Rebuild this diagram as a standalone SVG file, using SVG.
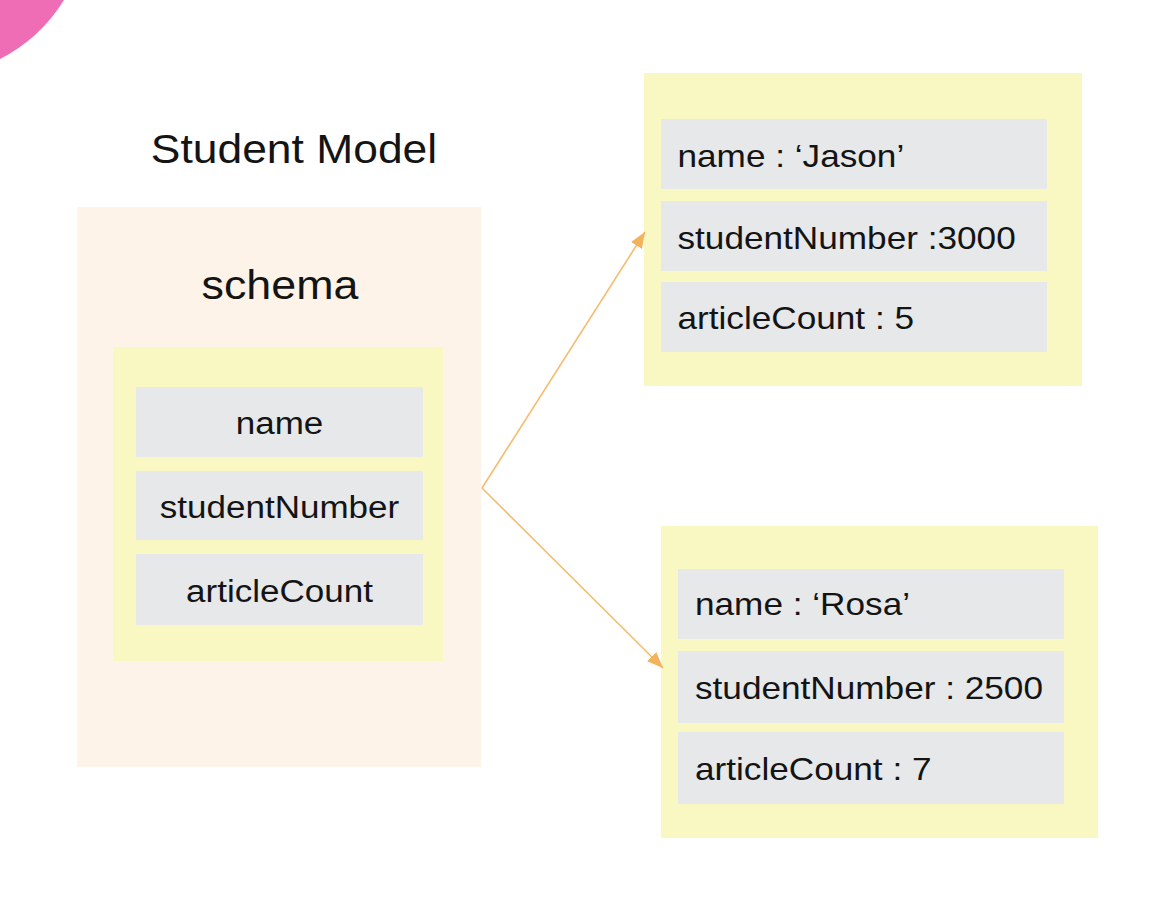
<svg xmlns="http://www.w3.org/2000/svg" width="1158" height="918" viewBox="0 0 1158 918">
<defs>
<style>
.t{font-family:"Liberation Sans",Arial,sans-serif;fill:#141414;}
.row{font-size:31px;}
.big{font-size:40px;}
.outer{fill:#FDF3E8;}
.yel{fill:#FAF8C2;}
.gray{fill:#E6E8EA;}
.conn{fill:none;stroke:#F5BC70;stroke-width:1.6;}
</style>
<marker id="ah" markerUnits="userSpaceOnUse" markerWidth="17" markerHeight="14" refX="16" refY="6.5" orient="auto">
<path d="M0,0 L16,6.5 L0,13 Z" fill="#F3B25C"/>
</marker>
</defs>
<rect width="1158" height="918" fill="#FFFFFF"/>
<path d="M0,0 L64,0 A162,162 0 0 1 0,59 Z" fill="#EE6DB5"/>

<g id="title">
<text class="t big" transform="translate(294,163) scale(1.11,1)" text-anchor="middle">Student Model</text>
</g>

<g id="schema">
<rect class="outer" x="77" y="207" width="404" height="560"/>
<text class="t big" transform="translate(280,299) scale(1.12,1)" text-anchor="middle">schema</text>
<rect class="yel" x="113" y="347" width="330" height="314"/>
<rect class="gray" x="136" y="387" width="287" height="70"/>
<rect class="gray" x="136" y="471" width="287" height="69"/>
<rect class="gray" x="136" y="554" width="287" height="71"/>
<text class="t row" transform="translate(279.5,434) scale(1.13,1)" text-anchor="middle">name</text>
<text class="t row" transform="translate(279.5,518) scale(1.13,1)" text-anchor="middle">studentNumber</text>
<text class="t row" transform="translate(279.5,602) scale(1.13,1)" text-anchor="middle">articleCount</text>
</g>

<g id="jason">
<rect class="yel" x="644" y="73" width="438" height="313"/>
<rect class="gray" x="661" y="119" width="386" height="70"/>
<rect class="gray" x="661" y="201" width="386" height="70"/>
<rect class="gray" x="661" y="282" width="386" height="70"/>
<text class="t row" transform="translate(677.5,167) scale(1.135,1)">name : ‘Jason’</text>
<text class="t row" transform="translate(677.5,249) scale(1.135,1)">studentNumber :3000</text>
<text class="t row" transform="translate(677.5,329) scale(1.135,1)">articleCount : 5</text>
</g>

<g id="rosa">
<rect class="yel" x="661" y="526" width="437" height="312"/>
<rect class="gray" x="678" y="569" width="386" height="70"/>
<rect class="gray" x="678" y="651" width="386" height="72"/>
<rect class="gray" x="678" y="732" width="386" height="72"/>
<text class="t row" transform="translate(695,615) scale(1.135,1)">name : ‘Rosa’</text>
<text class="t row" transform="translate(695,699) scale(1.135,1)">studentNumber : 2500</text>
<text class="t row" transform="translate(695,780) scale(1.135,1)">articleCount : 7</text>
</g>

<g id="connectors">
<path class="conn" d="M482,488 L645,232" marker-end="url(#ah)"/>
<path class="conn" d="M482,488 L663,668" marker-end="url(#ah)"/>
</g>
</svg>
